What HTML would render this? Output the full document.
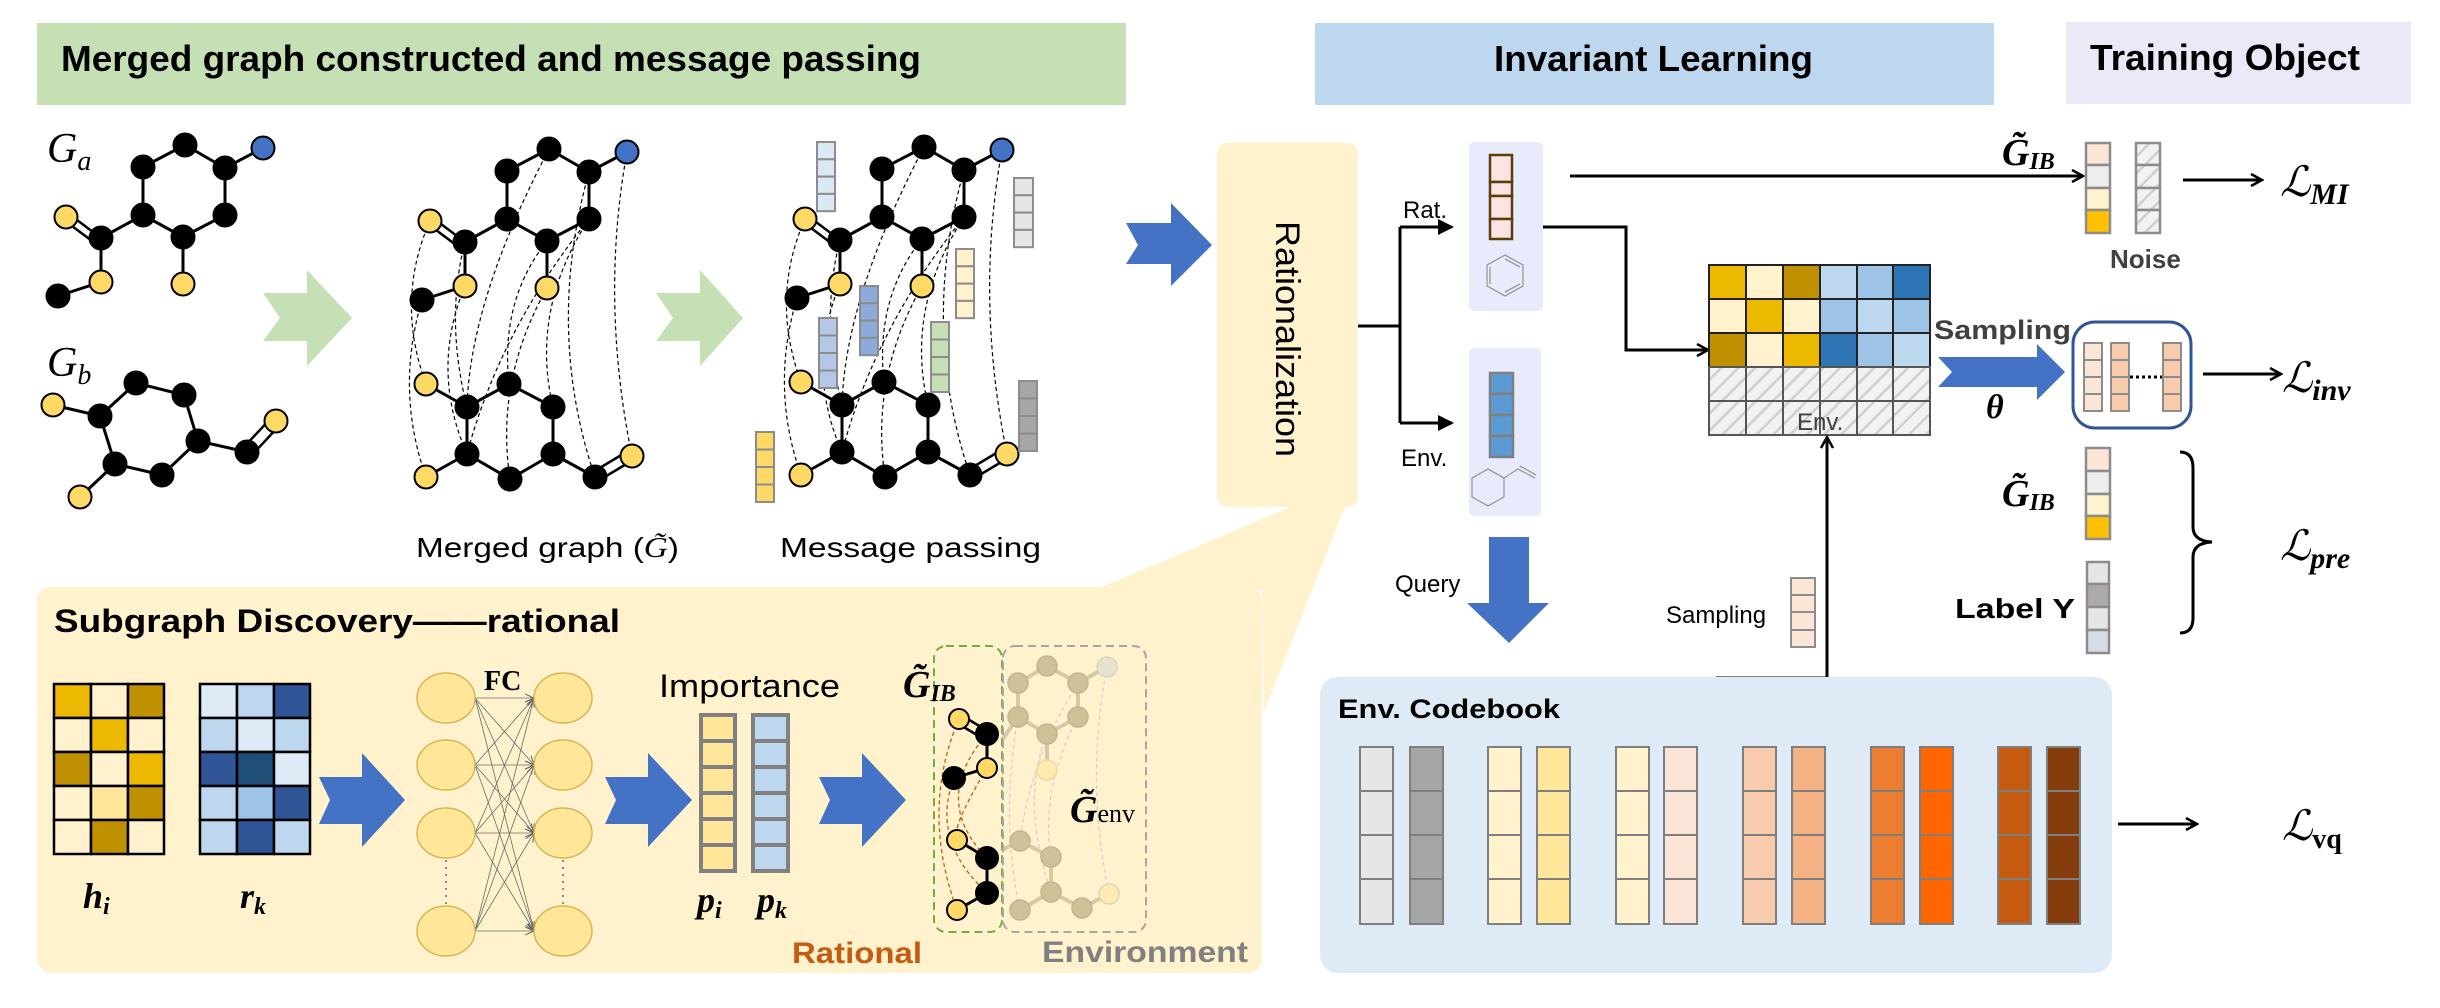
<!DOCTYPE html>
<html><head><meta charset="utf-8"><style>html,body{margin:0;padding:0;background:#fff}svg{display:block}</style></head>
<body>
<svg width="2440" height="1008" viewBox="0 0 2440 1008" xmlns="http://www.w3.org/2000/svg" font-family="Liberation Sans, sans-serif">
<defs>
<pattern id="hatch" width="12" height="12" patternUnits="userSpaceOnUse" patternTransform="rotate(45)">
<rect width="12" height="12" fill="#f2f2f2"/><line x1="0" y1="0" x2="0" y2="12" stroke="#cfcfcf" stroke-width="5"/></pattern>
<marker id="oa" markerWidth="14" markerHeight="14" refX="12" refY="7" orient="auto" markerUnits="userSpaceOnUse"><path d="M1,1 L12,7 L1,13" fill="none" stroke="#000" stroke-width="2.5"/></marker>
<marker id="fa" markerWidth="16" markerHeight="16" refX="14" refY="8" orient="auto" markerUnits="userSpaceOnUse"><path d="M0,0 L16,8 L0,16 Z" fill="#000"/></marker>
<marker id="sa" markerWidth="10" markerHeight="10" refX="9" refY="5" orient="auto" markerUnits="userSpaceOnUse"><path d="M0,1 L9,5 L0,9" fill="none" stroke="#666" stroke-width="1"/></marker>
<g id="topmol">
<g stroke="#000" stroke-width="3" fill="none">
<path d="M549,149 L507,171 M549,149 L589,172 L627,152 M507,171 L507,219 M589,172 L589,219 M507,219 L465,242 M507,219 L547,241 M589,219 L547,241 M465,242 L465,286 L422,300 M547,241 L547,288"/>
<path d="M465,242 L433,218 M460,248 L428,224" stroke-width="2.5"/>
</g>
<g stroke="#000" stroke-width="2">
<circle cx="549" cy="149" r="11.5"/><circle cx="627" cy="152" r="11.5" fill="#4472c4"/><circle cx="507" cy="171" r="11.5"/><circle cx="589" cy="172" r="11.5"/><circle cx="507" cy="219" r="11.5"/><circle cx="589" cy="219" r="11.5"/><circle cx="430" cy="221" r="11.5" fill="#ffd966"/><circle cx="465" cy="242" r="11.5"/><circle cx="547" cy="241" r="11.5"/><circle cx="465" cy="286" r="11.5" fill="#ffd966"/><circle cx="547" cy="288" r="11.5" fill="#ffd966"/><circle cx="422" cy="300" r="11.5"/>
</g></g>
<g id="botmol">
<g stroke="#000" stroke-width="3" fill="none">
<path d="M426,384 L467,407 L509,384 L553,407 L553,454 L510,479 L467,454 L467,407 M467,454 L426,477 M553,454 L595,477"/>
<path d="M593,472 L628,451 M598,481 L633,460" stroke-width="2.5"/>
</g>
<g stroke="#000" stroke-width="2">
<circle cx="426" cy="384" r="11.5" fill="#ffd966"/><circle cx="467" cy="407" r="11.5"/><circle cx="509" cy="384" r="11.5"/><circle cx="553" cy="407" r="11.5"/><circle cx="467" cy="454" r="11.5"/><circle cx="553" cy="454" r="11.5"/><circle cx="426" cy="477" r="11.5" fill="#ffd966"/><circle cx="510" cy="479" r="11.5"/><circle cx="595" cy="477" r="11.5"/><circle cx="632" cy="456" r="11.5" fill="#ffd966"/>
</g></g>
<g id="dash" fill="none" stroke="#000" stroke-width="1.2" stroke-dasharray="4,3">
<path d="M422,300 Q395,390 426,477"/><path d="M430,221 Q395,300 426,384"/><path d="M465,286 Q430,370 467,454"/><path d="M465,242 Q445,320 467,407"/><path d="M547,241 Q500,300 509,384"/><path d="M547,288 Q495,380 510,479"/><path d="M589,219 Q530,310 553,407"/><path d="M589,172 Q545,330 595,477"/><path d="M627,152 Q600,300 632,456"/><path d="M549,149 Q470,300 467,407"/><path d="M589,219 Q500,330 467,454"/>
</g>
</defs>

<!-- Headers -->
<rect x="37" y="23" width="1089" height="82" fill="#c5e0b4"/>
<text x="61" y="71" font-size="36" font-weight="bold" textLength="860" lengthAdjust="spacingAndGlyphs">Merged graph constructed and message passing</text>
<rect x="1315" y="23" width="679" height="82" fill="#bdd7ee"/>
<text x="1494" y="71" font-size="36" font-weight="bold" textLength="319" lengthAdjust="spacingAndGlyphs">Invariant Learning</text>
<rect x="2066" y="22" width="345" height="82" fill="#ebe8f8"/>
<text x="2090" y="70" font-size="36" font-weight="bold" textLength="270" lengthAdjust="spacingAndGlyphs">Training Object</text>

<!-- Molecule a / b -->
<text x="47" y="162" font-family="Liberation Serif, serif" font-style="italic" font-size="42">G<tspan font-size="28" dy="8">a</tspan></text>
<g transform="translate(-364,-4)"><use href="#topmol"/></g>
<text x="47" y="376" font-family="Liberation Serif, serif" font-style="italic" font-size="42">G<tspan font-size="28" dy="8">b</tspan></text>
<g stroke="#000" stroke-width="3" fill="none">
<path d="M53,405 L100,416 L136,383 L184,395 L198,441 L247,452 M198,441 L162,475 L115,464 L100,416 M115,464 L80,497"/>
<path d="M244,447 L272,417 M251,456 L279,426" stroke-width="2.5"/></g>
<g stroke="#000" stroke-width="2">
<circle cx="53" cy="405" r="11.5" fill="#ffd966"/><circle cx="100" cy="416" r="11.5"/><circle cx="136" cy="383" r="11.5"/><circle cx="184" cy="395" r="11.5"/><circle cx="198" cy="441" r="11.5"/><circle cx="247" cy="452" r="11.5"/><circle cx="276" cy="421" r="11.5" fill="#ffd966"/><circle cx="115" cy="464" r="11.5"/><circle cx="162" cy="475" r="11.5"/><circle cx="80" cy="497" r="11.5" fill="#ffd966"/></g>

<!-- green chevrons -->
<path d="M263,293 L307,293 L307,270 L352,318 L307,366 L307,341 L263,341 L280,318 Z" fill="#c5e0b4"/>
<path d="M656,293 L700,293 L700,270 L743,318 L700,366 L700,341 L656,341 L673,318 Z" fill="#c5e0b4"/>

<!-- merged graph -->
<use href="#dash"/><use href="#topmol"/><use href="#botmol"/>
<text x="416" y="557" font-size="28" textLength="263" lengthAdjust="spacingAndGlyphs">Merged graph (<tspan font-family="Liberation Serif, serif" font-style="italic">G̃</tspan>)</text>

<!-- message passing -->
<g transform="translate(375,-2)"><use href="#dash"/><use href="#topmol"/><use href="#botmol"/></g>
<g stroke="#8c8c8c" stroke-width="2">
<g fill="#dbe8f5"><rect x="817" y="142" width="18" height="17.3"/><rect x="817" y="159.3" width="18" height="17.3"/><rect x="817" y="176.6" width="18" height="17.3"/><rect x="817" y="193.9" width="18" height="17.3"/></g>
<g fill="#e6e6e6"><rect x="1014" y="178" width="19" height="17.3"/><rect x="1014" y="195.3" width="19" height="17.3"/><rect x="1014" y="212.6" width="19" height="17.3"/><rect x="1014" y="229.9" width="19" height="17.3"/></g>
<g fill="#fff2cc"><rect x="956" y="249" width="18" height="17.3"/><rect x="956" y="266.3" width="18" height="17.3"/><rect x="956" y="283.6" width="18" height="17.3"/><rect x="956" y="300.9" width="18" height="17.3"/></g>
<g fill="#8eaadb"><rect x="860" y="286" width="18" height="17.3"/><rect x="860" y="303.3" width="18" height="17.3"/><rect x="860" y="320.6" width="18" height="17.3"/><rect x="860" y="337.9" width="18" height="17.3"/></g>
<g fill="#b4c7e7"><rect x="819" y="318" width="18" height="17.5"/><rect x="819" y="335.5" width="18" height="17.5"/><rect x="819" y="353" width="18" height="17.5"/><rect x="819" y="370.5" width="18" height="17.5"/></g>
<g fill="#c5e0b4"><rect x="931" y="322" width="18" height="17.5"/><rect x="931" y="339.5" width="18" height="17.5"/><rect x="931" y="357" width="18" height="17.5"/><rect x="931" y="374.5" width="18" height="17.5"/></g>
<g fill="#a6a6a6"><rect x="1019" y="381" width="18" height="17.5"/><rect x="1019" y="398.5" width="18" height="17.5"/><rect x="1019" y="416" width="18" height="17.5"/><rect x="1019" y="433.5" width="18" height="17.5"/></g>
<g fill="#ffd966"><rect x="756" y="432" width="18" height="17.5"/><rect x="756" y="449.5" width="18" height="17.5"/><rect x="756" y="467" width="18" height="17.5"/><rect x="756" y="484.5" width="18" height="17.5"/></g>
</g>
<text x="780" y="557" font-size="28" textLength="261" lengthAdjust="spacingAndGlyphs">Message passing</text>

<!-- blue arrow to rationalization -->
<path d="M1126,223 L1171,223 L1171,203 L1212,245 L1171,286 L1171,264 L1126,264 L1138,245 Z" fill="#4472c4"/>

<!-- subgraph discovery box & wedge -->
<rect x="37" y="587" width="1225" height="386" rx="14" fill="#fff2cc"/>
<path d="M1095,590 L1297,504 L1346,504 L1264,712 L1262,590 Z" fill="#fff2cc"/>
<rect x="1217" y="143" width="141" height="364" rx="10" fill="#fff2cc"/>
<text transform="translate(1276,221) rotate(90)" font-size="34" textLength="236" lengthAdjust="spacingAndGlyphs">Rationalization</text>

<text x="54" y="632" font-size="32" font-weight="bold" textLength="566" lengthAdjust="spacingAndGlyphs">Subgraph Discovery——rational</text>

<!-- h_i matrix -->
<g stroke="#000" stroke-width="2.5">
<rect x="54" y="684" width="37" height="34" fill="#ecb800"/><rect x="91" y="684" width="37" height="34" fill="#fff2cc"/><rect x="128" y="684" width="36" height="34" fill="#bf9000"/>
<rect x="54" y="718" width="37" height="34" fill="#fff2cc"/><rect x="91" y="718" width="37" height="34" fill="#ecb800"/><rect x="128" y="718" width="36" height="34" fill="#fff2cc"/>
<rect x="54" y="752" width="37" height="34" fill="#bf9000"/><rect x="91" y="752" width="37" height="34" fill="#fff2cc"/><rect x="128" y="752" width="36" height="34" fill="#ecb800"/>
<rect x="54" y="786" width="37" height="34" fill="#fff2cc"/><rect x="91" y="786" width="37" height="34" fill="#ffe699"/><rect x="128" y="786" width="36" height="34" fill="#bf9000"/>
<rect x="54" y="820" width="37" height="34" fill="#fff2cc"/><rect x="91" y="820" width="37" height="34" fill="#bf9000"/><rect x="128" y="820" width="36" height="34" fill="#fff2cc"/>
<rect x="200" y="684" width="37" height="34" fill="#deebf7"/><rect x="237" y="684" width="37" height="34" fill="#bdd7ee"/><rect x="274" y="684" width="36" height="34" fill="#2f5597"/>
<rect x="200" y="718" width="37" height="34" fill="#bdd7ee"/><rect x="237" y="718" width="37" height="34" fill="#deebf7"/><rect x="274" y="718" width="36" height="34" fill="#bdd7ee"/>
<rect x="200" y="752" width="37" height="34" fill="#2f5597"/><rect x="237" y="752" width="37" height="34" fill="#1f4e79"/><rect x="274" y="752" width="36" height="34" fill="#deebf7"/>
<rect x="200" y="786" width="37" height="34" fill="#bdd7ee"/><rect x="237" y="786" width="37" height="34" fill="#9dc3e6"/><rect x="274" y="786" width="36" height="34" fill="#2f5597"/>
<rect x="200" y="820" width="37" height="34" fill="#bdd7ee"/><rect x="237" y="820" width="37" height="34" fill="#2f5597"/><rect x="274" y="820" width="36" height="34" fill="#bdd7ee"/>
</g>
<g font-family="Liberation Serif, serif" font-style="italic" font-weight="bold" font-size="36">
<text x="83" y="908">h<tspan font-size="24" dy="6">i</tspan></text>
<text x="240" y="908">r<tspan font-size="24" dy="6">k</tspan></text>
<text x="697" y="912">p<tspan font-size="24" dy="6">i</tspan></text>
<text x="757" y="912">p<tspan font-size="24" dy="6">k</tspan></text>
</g>

<!-- blue arrows in subgraph -->
<path d="M319,777 L362,777 L362,753 L405,800 L362,847 L362,824 L319,824 L330,800 Z" fill="#4472c4"/>
<path d="M605,777 L648,777 L648,753 L692,800 L648,847 L648,824 L605,824 L616,800 Z" fill="#4472c4"/>
<path d="M819,777 L862,777 L862,753 L906,800 L862,847 L862,824 L819,824 L830,800 Z" fill="#4472c4"/>

<!-- FC -->
<g stroke="#6b6b6b" stroke-width="0.8" fill="none" marker-end="url(#sa)">
<path d="M475,698 L534,698"/><path d="M475,698 L534,765"/><path d="M475,698 L534,833"/><path d="M475,698 L534,931"/>
<path d="M475,765 L534,698"/><path d="M475,765 L534,765"/><path d="M475,765 L534,833"/><path d="M475,765 L534,931"/>
<path d="M475,833 L534,698"/><path d="M475,833 L534,765"/><path d="M475,833 L534,833"/><path d="M475,833 L534,931"/>
<path d="M475,931 L534,698"/><path d="M475,931 L534,765"/><path d="M475,931 L534,833"/><path d="M475,931 L534,931"/>
</g>
<g fill="#ffe699" stroke="#d6b656" stroke-width="1.5">
<ellipse cx="446" cy="698" rx="29" ry="25"/><ellipse cx="446" cy="765" rx="29" ry="25"/><ellipse cx="446" cy="833" rx="29" ry="25"/><ellipse cx="446" cy="931" rx="29" ry="25"/>
<ellipse cx="563" cy="698" rx="29" ry="25"/><ellipse cx="563" cy="765" rx="29" ry="25"/><ellipse cx="563" cy="833" rx="29" ry="25"/><ellipse cx="563" cy="931" rx="29" ry="25"/>
</g>
<g stroke="#666" stroke-width="1.5" stroke-dasharray="2,5"><line x1="446" y1="860" x2="446" y2="904"/><line x1="563" y1="860" x2="563" y2="904"/></g>
<text x="484" y="690" font-family="Liberation Serif, serif" font-weight="bold" font-size="28">FC</text>

<text x="659" y="697" font-size="32" textLength="181" lengthAdjust="spacingAndGlyphs">Importance</text>
<g stroke="#808080" stroke-width="4">
<g fill="#ffe699"><rect x="701" y="715" width="34" height="26"/><rect x="701" y="741" width="34" height="26"/><rect x="701" y="767" width="34" height="26"/><rect x="701" y="793" width="34" height="26"/><rect x="701" y="819" width="34" height="26"/><rect x="701" y="845" width="34" height="26"/></g>
<g fill="#bdd7ee"><rect x="753" y="715" width="35" height="26"/><rect x="753" y="741" width="35" height="26"/><rect x="753" y="767" width="35" height="26"/><rect x="753" y="793" width="35" height="26"/><rect x="753" y="819" width="35" height="26"/><rect x="753" y="845" width="35" height="26"/></g>
</g>

<!-- G_IB / G_env subgraph -->
<rect x="934" y="646" width="68" height="286" rx="12" fill="none" stroke="#70ad47" stroke-width="2" stroke-dasharray="8,5"/>
<rect x="1003" y="646" width="143" height="286" rx="12" fill="none" stroke="#a6a6a6" stroke-width="2" stroke-dasharray="8,5"/>
<g opacity="0.55">
<g fill="none" stroke="#aab4d8" stroke-width="1.2" stroke-dasharray="4,3"><path d="M1078,683 Q1030,760 1020,841"/><path d="M1078,717 Q1040,790 1051,857"/><path d="M1107,667 Q1085,780 1109,894"/><path d="M1047,734 Q1020,800 1051,892"/><path d="M1018,717 Q1000,820 1020,910"/></g>
<g stroke="#b5aa88" stroke-width="4" fill="none"><path d="M1047,666 L1018,683 L1018,717 L1047,734 L1078,717 L1078,683 Z M1078,683 L1107,667 M1047,734 L1047,770 M1020,841 L1051,857 L1051,892 L1020,910 M1051,892 L1082,908 L1109,894 M1002,740 L1018,717 M1002,850 L1020,841"/></g>
<g fill="#a89b70" stroke="#8f8462" stroke-width="1.5"><circle cx="1047" cy="666" r="10"/><circle cx="1018" cy="683" r="10"/><circle cx="1078" cy="683" r="10"/><circle cx="1018" cy="717" r="10"/><circle cx="1078" cy="717" r="10"/><circle cx="1047" cy="734" r="10"/><circle cx="1020" cy="841" r="10"/><circle cx="1051" cy="857" r="10"/><circle cx="1051" cy="892" r="10"/><circle cx="1020" cy="910" r="10"/><circle cx="1082" cy="908" r="10"/>
<circle cx="1107" cy="667" r="10" fill="#d5d5d0" stroke="#bbb"/><circle cx="1047" cy="770" r="10" fill="#ffe699" stroke="#e0c878"/><circle cx="1109" cy="894" r="10" fill="#ffe699" stroke="#bbb"/></g>
</g>
<g fill="none" stroke="#c55a11" stroke-width="1.3" stroke-dasharray="4,3"><path d="M959,719 Q920,810 957,910"/><path d="M954,778 Q930,840 987,893"/><path d="M987,734 Q930,800 987,858"/><path d="M987,768 Q950,830 957,840"/></g>
<g stroke="#000" stroke-width="3" fill="none"><path d="M987,734 L987,768 L954,778 M957,840 L987,858 L987,893 L957,910"/><path d="M961,715 L986,730 M957,723 L982,738" stroke-width="2.5"/></g>
<g stroke="#000" stroke-width="2"><circle cx="959" cy="719" r="10" fill="#ffd966"/><circle cx="987" cy="734" r="11"/><circle cx="987" cy="768" r="10" fill="#ffd966"/><circle cx="954" cy="778" r="11"/><circle cx="957" cy="840" r="10" fill="#ffd966"/><circle cx="987" cy="858" r="11"/><circle cx="987" cy="893" r="11"/><circle cx="957" cy="910" r="10" fill="#ffd966"/></g>
<g font-family="Liberation Serif, serif" font-style="italic" font-weight="bold">
<text x="903" y="697" font-size="38">G̃<tspan font-size="24" dy="4">IB</tspan></text>
</g>
<text x="1070" y="822" font-family="Liberation Serif, serif" font-size="38"><tspan font-style="italic" font-weight="bold">G̃</tspan><tspan font-size="26">env</tspan></text>
<text x="792" y="963" font-size="30" font-weight="bold" fill="#c55a11" textLength="130" lengthAdjust="spacingAndGlyphs">Rational</text>
<text x="1042" y="962" font-size="30" font-weight="bold" fill="#808080" textLength="206" lengthAdjust="spacingAndGlyphs">Environment</text>

<!-- Branch lines -->
<g stroke="#000" stroke-width="3" fill="none">
<path d="M1358,326 L1400,326 M1400,227 L1400,423 M1400,227 L1452,227" marker-end="url(#fa)"/>
<path d="M1400,423 L1452,423" marker-end="url(#fa)"/>
</g>
<text x="1403" y="218" font-size="24">Rat.</text>
<text x="1401" y="466" font-size="24">Env.</text>

<!-- panels -->
<rect x="1469" y="142" width="74" height="169" rx="5" fill="#e8ebfb"/>
<g stroke="#5a3e0a" stroke-width="2.5" fill="#fde4e4"><rect x="1490" y="155" width="22" height="27"/><rect x="1490" y="182" width="22" height="14"/><rect x="1490" y="196" width="22" height="23"/><rect x="1490" y="219" width="22" height="20"/></g>
<path d="M1505,255 L1523,265 L1523,286 L1505,296 L1487,286 L1487,265 Z M1505,259 L1520,267 M1490,267 L1490,284 M1505,292 L1520,284" fill="none" stroke="#999" stroke-width="1.3"/>
<rect x="1469" y="348" width="72" height="168" rx="5" fill="#e8ebfb"/>
<g stroke="#7f7f7f" stroke-width="2.5" fill="#5b9bd5"><rect x="1490" y="373" width="23" height="21"/><rect x="1490" y="394" width="23" height="21"/><rect x="1490" y="415" width="23" height="21"/><rect x="1490" y="436" width="23" height="21"/></g>
<path d="M1488,469 L1504,478 L1504,497 L1488,506 L1472,497 L1472,478 Z M1504,478 L1518,469 L1535,478 M1520,466 L1536,475" fill="none" stroke="#999" stroke-width="1.3"/>

<!-- top line to G_IB -->
<line x1="1570" y1="176" x2="2083" y2="176" stroke="#000" stroke-width="3" marker-end="url(#oa)"/>
<text x="2002" y="165" font-family="Liberation Serif, serif" font-style="italic" font-weight="bold" font-size="38">G̃<tspan font-size="24" dy="4">IB</tspan></text>
<g stroke="#8c8c8c" stroke-width="2.5"><rect x="2086" y="143" width="24" height="22" fill="#fbe5d6"/><rect x="2086" y="165" width="24" height="23" fill="#ededed"/><rect x="2086" y="188" width="24" height="22" fill="#fff2cc"/><rect x="2086" y="210" width="24" height="23" fill="#ffc000"/>
<rect x="2136" y="143" width="24" height="22" fill="url(#hatch)"/><rect x="2136" y="165" width="24" height="23" fill="url(#hatch)"/><rect x="2136" y="188" width="24" height="22" fill="url(#hatch)"/><rect x="2136" y="210" width="24" height="23" fill="url(#hatch)"/></g>
<text x="2110" y="268" font-size="26" font-weight="bold" fill="#404040">Noise</text>
<line x1="2183" y1="180" x2="2262" y2="180" stroke="#000" stroke-width="3" marker-end="url(#oa)"/>
<text x="2280" y="196" font-family="DejaVu Serif, serif" font-size="42" font-style="italic">ℒ<tspan font-family="Liberation Serif, serif" font-weight="bold" font-size="30" dy="8">MI</tspan></text>

<!-- path to matrix -->
<path d="M1543,227 L1626,227 L1626,350 L1708,350" fill="none" stroke="#000" stroke-width="3" marker-end="url(#oa)"/>
<!-- matrix -->
<g stroke="#222" stroke-width="2">
<rect x="1709" y="265" width="37" height="34" fill="#ecb800"/><rect x="1746" y="265" width="37" height="34" fill="#fff2cc"/><rect x="1783" y="265" width="37" height="34" fill="#bf9000"/><rect x="1820" y="265" width="37" height="34" fill="#bdd7ee"/><rect x="1857" y="265" width="36" height="34" fill="#9dc3e6"/><rect x="1893" y="265" width="37" height="34" fill="#2e75b6"/>
<rect x="1709" y="299" width="37" height="34" fill="#fff2cc"/><rect x="1746" y="299" width="37" height="34" fill="#ecb800"/><rect x="1783" y="299" width="37" height="34" fill="#fff2cc"/><rect x="1820" y="299" width="37" height="34" fill="#9dc3e6"/><rect x="1857" y="299" width="36" height="34" fill="#bdd7ee"/><rect x="1893" y="299" width="37" height="34" fill="#9dc3e6"/>
<rect x="1709" y="333" width="37" height="34" fill="#bf9000"/><rect x="1746" y="333" width="37" height="34" fill="#fff2cc"/><rect x="1783" y="333" width="37" height="34" fill="#ecb800"/><rect x="1820" y="333" width="37" height="34" fill="#2e75b6"/><rect x="1857" y="333" width="36" height="34" fill="#9dc3e6"/><rect x="1893" y="333" width="37" height="34" fill="#bdd7ee"/>
</g>
<g stroke="#555" stroke-width="2" fill="url(#hatch)">
<rect x="1709" y="367" width="37" height="34"/><rect x="1746" y="367" width="37" height="34"/><rect x="1783" y="367" width="37" height="34"/><rect x="1820" y="367" width="37" height="34"/><rect x="1857" y="367" width="36" height="34"/><rect x="1893" y="367" width="37" height="34"/>
<rect x="1709" y="401" width="37" height="34"/><rect x="1746" y="401" width="37" height="34"/><rect x="1783" y="401" width="37" height="34"/><rect x="1820" y="401" width="37" height="34"/><rect x="1857" y="401" width="36" height="34"/><rect x="1893" y="401" width="37" height="34"/>
</g>
<text x="1797" y="430" font-size="24" fill="#404040">Env.</text>

<text x="1934" y="339" font-size="27" font-weight="bold" fill="#404040" textLength="137" lengthAdjust="spacingAndGlyphs">Sampling</text>
<text x="1986" y="418" font-family="Liberation Serif, serif" font-style="italic" font-weight="bold" font-size="34">θ</text>
<path d="M1938,357 L2037,357 L2037,344 L2065,372 L2037,400 L2037,387 L1938,387 L1952,372 Z" fill="#4472c4"/>
<rect x="2073" y="322" width="118" height="106" rx="22" fill="none" stroke="#2f5597" stroke-width="3"/>
<g stroke="#8c8c8c" stroke-width="2">
<g fill="#fbe5d6"><rect x="2084" y="343" width="18" height="17"/><rect x="2084" y="360" width="18" height="17"/><rect x="2084" y="377" width="18" height="17"/><rect x="2084" y="394" width="18" height="17"/></g>
<g fill="#f8cbad"><rect x="2111" y="343" width="18" height="17"/><rect x="2111" y="360" width="18" height="17"/><rect x="2111" y="377" width="18" height="17"/><rect x="2111" y="394" width="18" height="17"/>
<rect x="2163" y="343" width="18" height="17"/><rect x="2163" y="360" width="18" height="17"/><rect x="2163" y="377" width="18" height="17"/><rect x="2163" y="394" width="18" height="17"/></g></g>
<line x1="2130" y1="377" x2="2162" y2="377" stroke="#000" stroke-width="3" stroke-dasharray="3,3"/>
<line x1="2203" y1="374" x2="2281" y2="374" stroke="#000" stroke-width="3" marker-end="url(#oa)"/>
<text x="2282" y="392" font-family="DejaVu Serif, serif" font-size="42" font-style="italic">ℒ<tspan font-family="Liberation Serif, serif" font-weight="bold" font-size="30" dy="8">inv</tspan></text>

<!-- lower G_IB and label -->
<text x="2002" y="506" font-family="Liberation Serif, serif" font-style="italic" font-weight="bold" font-size="38">G̃<tspan font-size="24" dy="4">IB</tspan></text>
<g stroke="#8c8c8c" stroke-width="2.5"><rect x="2086" y="448" width="24" height="23" fill="#fbe5d6"/><rect x="2086" y="471" width="24" height="23" fill="#ededed"/><rect x="2086" y="494" width="24" height="22" fill="#fff2cc"/><rect x="2086" y="516" width="24" height="23" fill="#ffc000"/>
<rect x="2087" y="562" width="22" height="22" fill="#e7e6e6"/><rect x="2087" y="584" width="22" height="23" fill="#aeaaaa"/><rect x="2087" y="607" width="22" height="23" fill="#e7e6e6"/><rect x="2087" y="630" width="22" height="23" fill="#d6dce5"/></g>
<text x="1955" y="618" font-size="28" font-weight="bold" textLength="120" lengthAdjust="spacingAndGlyphs">Label Y</text>
<path d="M2180,452 Q2193,452 2193,468 L2193,527 Q2193,541 2212,542 Q2193,543 2193,557 L2193,618 Q2193,633 2180,633" fill="none" stroke="#000" stroke-width="3"/>
<text x="2280" y="560" font-family="DejaVu Serif, serif" font-size="42" font-style="italic">ℒ<tspan font-family="Liberation Serif, serif" font-weight="bold" font-size="30" dy="8">pre</tspan></text>

<!-- Query arrow -->
<path d="M1489,537 L1529,537 L1529,603 L1549,603 L1509,643 L1467,603 L1489,603 Z" fill="#4472c4"/>
<text x="1395" y="592" font-size="24">Query</text>
<text x="1666" y="623" font-size="24">Sampling</text>
<g stroke="#8c8c8c" stroke-width="2" fill="#fbe5d6"><rect x="1791" y="578" width="24" height="17"/><rect x="1791" y="595" width="24" height="17"/><rect x="1791" y="612" width="24" height="18"/><rect x="1791" y="630" width="24" height="17"/></g>
<path d="M1716,678 L1827,678 L1827,437" fill="none" stroke="#000" stroke-width="3" marker-end="url(#oa)"/>

<!-- Codebook -->
<rect x="1320" y="677" width="792" height="296" rx="18" fill="#deebf7"/>
<text x="1338" y="718" font-size="27" font-weight="bold" textLength="222" lengthAdjust="spacingAndGlyphs">Env. Codebook</text>
<g stroke="#7f7f7f" stroke-width="2">
<g fill="#e6e6e6"><rect x="1360" y="747" width="33" height="44"/><rect x="1360" y="791" width="33" height="44"/><rect x="1360" y="835" width="33" height="44"/><rect x="1360" y="879" width="33" height="45"/></g>
<g fill="#a6a6a6"><rect x="1410" y="747" width="33" height="44"/><rect x="1410" y="791" width="33" height="44"/><rect x="1410" y="835" width="33" height="44"/><rect x="1410" y="879" width="33" height="45"/></g>
<g fill="#fff2cc"><rect x="1488" y="747" width="33" height="44"/><rect x="1488" y="791" width="33" height="44"/><rect x="1488" y="835" width="33" height="44"/><rect x="1488" y="879" width="33" height="45"/></g>
<g fill="#ffe699"><rect x="1537" y="747" width="33" height="44"/><rect x="1537" y="791" width="33" height="44"/><rect x="1537" y="835" width="33" height="44"/><rect x="1537" y="879" width="33" height="45"/></g>
<g fill="#fff2cc"><rect x="1616" y="747" width="33" height="44"/><rect x="1616" y="791" width="33" height="44"/><rect x="1616" y="835" width="33" height="44"/><rect x="1616" y="879" width="33" height="45"/></g>
<g fill="#fbe5d6"><rect x="1664" y="747" width="33" height="44"/><rect x="1664" y="791" width="33" height="44"/><rect x="1664" y="835" width="33" height="44"/><rect x="1664" y="879" width="33" height="45"/></g>
<g fill="#f8cbad"><rect x="1743" y="747" width="33" height="44"/><rect x="1743" y="791" width="33" height="44"/><rect x="1743" y="835" width="33" height="44"/><rect x="1743" y="879" width="33" height="45"/></g>
<g fill="#f4b183"><rect x="1792" y="747" width="33" height="44"/><rect x="1792" y="791" width="33" height="44"/><rect x="1792" y="835" width="33" height="44"/><rect x="1792" y="879" width="33" height="45"/></g>
<g fill="#ed7d31"><rect x="1871" y="747" width="33" height="44"/><rect x="1871" y="791" width="33" height="44"/><rect x="1871" y="835" width="33" height="44"/><rect x="1871" y="879" width="33" height="45"/></g>
<g fill="#ff6600"><rect x="1920" y="747" width="33" height="44"/><rect x="1920" y="791" width="33" height="44"/><rect x="1920" y="835" width="33" height="44"/><rect x="1920" y="879" width="33" height="45"/></g>
<g fill="#c55a11"><rect x="1998" y="747" width="33" height="44"/><rect x="1998" y="791" width="33" height="44"/><rect x="1998" y="835" width="33" height="44"/><rect x="1998" y="879" width="33" height="45"/></g>
<g fill="#843c0c"><rect x="2047" y="747" width="33" height="44"/><rect x="2047" y="791" width="33" height="44"/><rect x="2047" y="835" width="33" height="44"/><rect x="2047" y="879" width="33" height="45"/></g>
</g>
<line x1="2118" y1="824" x2="2197" y2="824" stroke="#000" stroke-width="3" marker-end="url(#oa)"/>
<text x="2282" y="840" font-family="DejaVu Serif, serif" font-size="42" font-style="italic">ℒ<tspan font-family="Liberation Serif, serif" font-weight="bold" font-style="normal" font-size="28" dy="8">vq</tspan></text>
</svg>
</body></html>
